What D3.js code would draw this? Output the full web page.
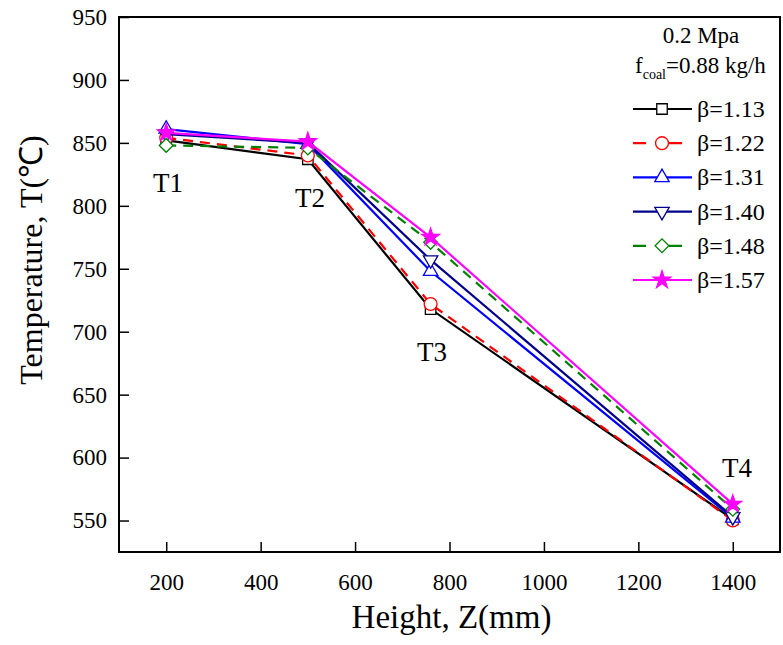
<!DOCTYPE html>
<html><head><meta charset="utf-8">
<script src="https://cdn.jsdelivr.net/npm/d3@7"></script>
<style>
body{margin:0;background:#fff}
svg{display:block}
svg text{font-family:"Liberation Serif","Times New Roman",serif !important;fill:#000}
</style>
</head><body>
<svg id="c" width="783" height="645"></svg>
<script>
// ---- data ----
const heights = [200, 500, 760, 1400];
const pointLabels = ["T1", "T2", "T3", "T4"];
const betaLabels = ["β=1.13", "β=1.22", "β=1.31", "β=1.40", "β=1.48", "β=1.57"];
const tBeta113 = [852, 837, 718, 551];
const tBeta122 = [854, 840, 722, 550];
const tBeta131 = [861, 849, 748, 552];
const tBeta140 = [857, 850, 757, 553];
const tBeta148 = [848, 846, 771, 559];
const tBeta157 = [858, 851, 775, 563];
const xTicks = [200, 400, 600, 800, 1000, 1200, 1400];
const yTicks = [550, 600, 650, 700, 750, 800, 850, 900, 950];
const legendTitle1 = "0.2 Mpa";

const seriesValues = [tBeta113, tBeta122, tBeta131, tBeta140, tBeta148, tBeta157];
const styles = [
  {color:"#000000", dash:null, sym:d3.symbolSquare, size:110, rot:0, fill:"#fff"},
  {color:"#ff0000", dash:"10,7", sym:d3.symbolCircle, size:130, rot:0, fill:"#fff"},
  {color:"#0000ff", dash:null, sym:d3.symbolTriangle, size:90, rot:0, fill:"#fff"},
  {color:"#00008b", dash:null, sym:d3.symbolTriangle, size:90, rot:180, fill:"#fff"},
  {color:"#008000", dash:"10,7", sym:d3.symbolSquare, size:95, rot:45, fill:"#fff"},
  {color:"#ff00ff", dash:null, sym:d3.symbolStar, size:95, rot:0, fill:"#ff00ff"}
];

const svg = d3.select("#c");
const serif = '"Liberation Serif","Times New Roman",serif';
const L = 119, R = 780, T = 17, B = 552;
const x = d3.scaleLinear().domain([100, 1500]).range([L, R]);
const y = d3.scaleLinear().domain([525, 950]).range([B, T]);

// axes
const ax = svg.append("g").attr("transform", `translate(0,${B})`)
  .call(d3.axisBottom(x).tickValues(xTicks).tickFormat(d3.format("d"))
    .tickSizeInner(-10).tickSizeOuter(0).tickPadding(22));
const ay = svg.append("g").attr("transform", `translate(${L},0)`)
  .call(d3.axisLeft(y).tickValues(yTicks).tickFormat(d3.format("d"))
    .tickSizeInner(-10).tickSizeOuter(0).tickPadding(12));
[ax, ay].forEach(g => {
  g.attr("font-family", serif);
  g.select(".domain").remove();
  g.selectAll("line").attr("stroke", "#000").attr("stroke-width", 1.5);
  g.selectAll("text").attr("font-size", 23).style("font-family", serif);
});

// frame
svg.append("rect").attr("x", L).attr("y", T).attr("width", R - L).attr("height", B - T)
  .attr("fill", "none").attr("stroke", "#000").attr("stroke-width", 2);

// titles
svg.append("text").attr("x", (L + R) / 2 + 2).attr("y", 628).attr("text-anchor", "middle")
  .attr("font-size", 33).text("Height, Z(mm)");
svg.append("text").attr("transform", "translate(42,260) rotate(-90)").attr("text-anchor", "middle")
  .attr("font-size", 32).text("Temperature, T(℃)");

// series
const line = d3.line().x((d, i) => x(heights[i])).y(d => y(d));
seriesValues.forEach((vals, k) => {
  const s = styles[k];
  svg.append("path").datum(vals).attr("d", line).attr("fill", "none")
    .attr("stroke", s.color).attr("stroke-width", 2.2)
    .attr("stroke-dasharray", s.dash);
  svg.append("g").selectAll("path").data(vals).join("path")
    .attr("d", d3.symbol(s.sym, s.size))
    .attr("transform", (d, i) => `translate(${x(heights[i])},${y(d)}) rotate(${s.rot})`)
    .attr("fill", s.fill).attr("stroke", s.color).attr("stroke-width", 1.3);
});

// point labels
const labelPos = [[168, 192], [310, 207], [432, 361], [737, 477]];
pointLabels.forEach((t, i) => {
  svg.append("text").attr("x", labelPos[i][0]).attr("y", labelPos[i][1])
    .attr("text-anchor", "middle").attr("font-size", 27).text(t);
});

// legend
svg.append("text").attr("x", 701).attr("y", 43).attr("text-anchor", "middle")
  .attr("font-size", 23).text(legendTitle1);
const ft = svg.append("text").attr("x", 635).attr("y", 73).attr("font-size", 23);
ft.append("tspan").text("f");
ft.append("tspan").attr("font-size", 14).attr("dy", 6).text("coal");
ft.append("tspan").attr("dy", -6).text("=0.88 kg/h");

betaLabels.forEach((lab, k) => {
  const s = styles[k];
  const cy = 109 + k * 34.2;
  svg.append("line").attr("x1", 633).attr("x2", 692).attr("y1", cy).attr("y2", cy)
    .attr("stroke", s.color).attr("stroke-width", 2.2)
    .attr("stroke-dasharray", s.dash ? "13,23" : null);
  svg.append("path").attr("d", d3.symbol(s.sym, s.size))
    .attr("transform", `translate(662,${cy}) rotate(${s.rot})`)
    .attr("fill", s.fill).attr("stroke", s.color).attr("stroke-width", 1.3);
  svg.append("text").attr("x", 697).attr("y", cy + 8).attr("font-size", 24).text(lab);
});
</script>
</body></html>
